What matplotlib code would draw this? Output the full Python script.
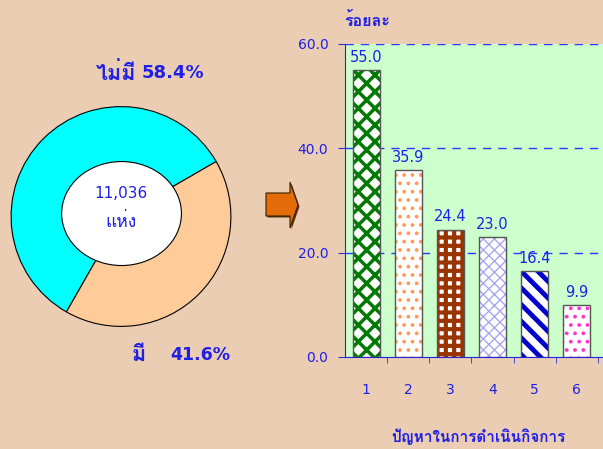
import matplotlib
matplotlib.use('Agg')
import matplotlib.pyplot as plt
from matplotlib import font_manager, ft2font
from matplotlib.patches import Ellipse, Polygon

#Fonts - find something that can draw Thai
thai_fonts = []
for f in font_manager.fontManager.ttflist:
    try:
        if ft2font.FT2Font(f.fname).get_char_index(ord('ก')) != 0:
            if f.name not in thai_fonts:
                thai_fonts.append(f.name)
    except Exception:
        pass
plt.rcParams['font.family'] = ['DejaVu Sans'] + thai_fonts

#Data
donut_labels = ['ไม่มี', 'มี']
donut_values = [58.4, 41.6]
donut_colors = ['#00FFFF', '#FFCC99']
total_text = '11,036'
unit_text = 'แห่ง'

categories = [1, 2, 3, 4, 5, 6]
values = [55.0, 35.9, 24.4, 23.0, 16.4, 9.9]
hatches = ['xx', '..', '++', 'xxx', '\\\\', '..']
hatch_colors = ['#007A00', '#FF9955', '#993300', '#A8A8F0', '#0000CC', '#FF33CC']
hatch_widths = [2.5, 1.5, 3.0, 1.0, 3.5, 1.5]
yticks = [0, 20, 40, 60]

bg = '#EBCDB4'
txt = '#1F1FE6'

fig = plt.figure(figsize=(6.03, 4.49), dpi=100, facecolor=bg)

#Donut
ax_d = fig.add_axes([10 / 603, 1 - 327.5 / 449, 222 / 603, 222 / 449])
ax_d.pie(donut_values, colors=donut_colors, startangle=30, counterclock=True,
         radius=1, wedgeprops=dict(edgecolor='black', linewidth=0.8))
ax_d.add_patch(Ellipse((0.005, 0.027), 1.09, 0.946, facecolor='white',
                       edgecolor='black', linewidth=0.8))
ax_d.set_xlim(-1.01, 1.01)
ax_d.set_ylim(-1.01, 1.01)
ax_d.axis('off')

#Donut labels (thai word + percent as two pieces)
fig.text(136 / 603, 1 - 73 / 449, donut_labels[0], color=txt, fontsize=15.5,
         fontweight='bold', ha='right', va='center')
fig.text(142 / 603, 1 - 73 / 449, f'{donut_values[0]:.1f}%', color=txt, fontsize=13,
         fontweight='bold', ha='left', va='center')
fig.text(146 / 603, 1 - 355 / 449, donut_labels[1], color=txt, fontsize=15.5,
         fontweight='bold', ha='right', va='center')
fig.text(170 / 603, 1 - 355 / 449, f'{donut_values[1]:.1f}%', color=txt, fontsize=12.5,
         fontweight='bold', ha='left', va='center')
fig.text(121 / 603, 1 - 193 / 449, total_text, color=txt, fontsize=11,
         ha='center', va='center')
fig.text(121 / 603, 1 - 222 / 449, unit_text, color=txt, fontsize=12.5,
         ha='center', va='center')

#Arrow
ax_o = fig.add_axes([0, 0, 1, 1])
ax_o.set_xlim(0, 603)
ax_o.set_ylim(449, 0)
ax_o.axis('off')
arrow = [(266, 193), (290, 193), (290, 182), (298, 205), (290, 228), (290, 216), (266, 216)]
ax_o.add_patch(Polygon([(x + 1.5, y + 1.5) for x, y in arrow], closed=True,
                       facecolor='#5A3010', edgecolor='none'))
ax_o.add_patch(Polygon(arrow, closed=True, facecolor='#E36C09',
                       edgecolor='#3A2000', linewidth=0.8))

#Bar chart
ax = fig.add_axes([345 / 603, 1 - 357 / 449, 258 / 603, 313 / 449])
ax.set_facecolor('#CCFFCC')
for i in range(len(values)):
    b = ax.bar(categories[i], values[i], width=0.64, facecolor='white',
               edgecolor=hatch_colors[i], hatch=hatches[i], linewidth=0, zorder=3)
    for p in b:
        try:
            p.set_hatch_linewidth(hatch_widths[i])
        except AttributeError:
            pass
    ax.bar(categories[i], values[i], width=0.64, facecolor='none',
           edgecolor='#555555', linewidth=1, zorder=4)
    ax.text(categories[i], values[i] + 1.0, f'{values[i]:.1f}', color=txt,
            fontsize=10.5, ha='center', va='bottom', zorder=5)

ax.set_xlim(0.5, 6.62)
ax.set_ylim(0, 60)
ax.set_yticks(yticks)
ax.set_yticklabels([f'{v:.1f}' for v in yticks])
ax.set_xticks(categories)
ax.set_xticklabels([str(c) for c in categories])
ax.set_xticks([c + 0.5 for c in categories], minor=True)
ax.tick_params(axis='x', which='major', length=0, pad=18.5, colors=txt, labelsize=10)
ax.tick_params(axis='x', which='minor', length=4, direction='out', color='#3333CC')
ax.tick_params(axis='y', length=5, pad=7, colors=txt, labelsize=10, color='#3333CC')
for v in yticks[1:]:
    ax.axhline(v, color='#3333FF', linestyle=(0, (6, 5)), linewidth=1, zorder=2)
ax.spines['top'].set_visible(False)
ax.spines['right'].set_visible(False)
ax.spines['left'].set_color('#2222DD')
ax.spines['bottom'].set_color('#2222DD')
ax.spines['left'].set_zorder(6)

fig.text(367 / 603, 1 - 20 / 449, 'ร้อยละ', color=txt, fontsize=11.5,
         fontweight='bold', ha='center', va='center')
fig.text(478 / 603, 1 - 437 / 449, 'ปัญหาในการดำเนินกิจการ', color=txt, fontsize=11,
         fontweight='bold', ha='center', va='center')

fig.savefig('out.png', dpi=100, facecolor=bg)
